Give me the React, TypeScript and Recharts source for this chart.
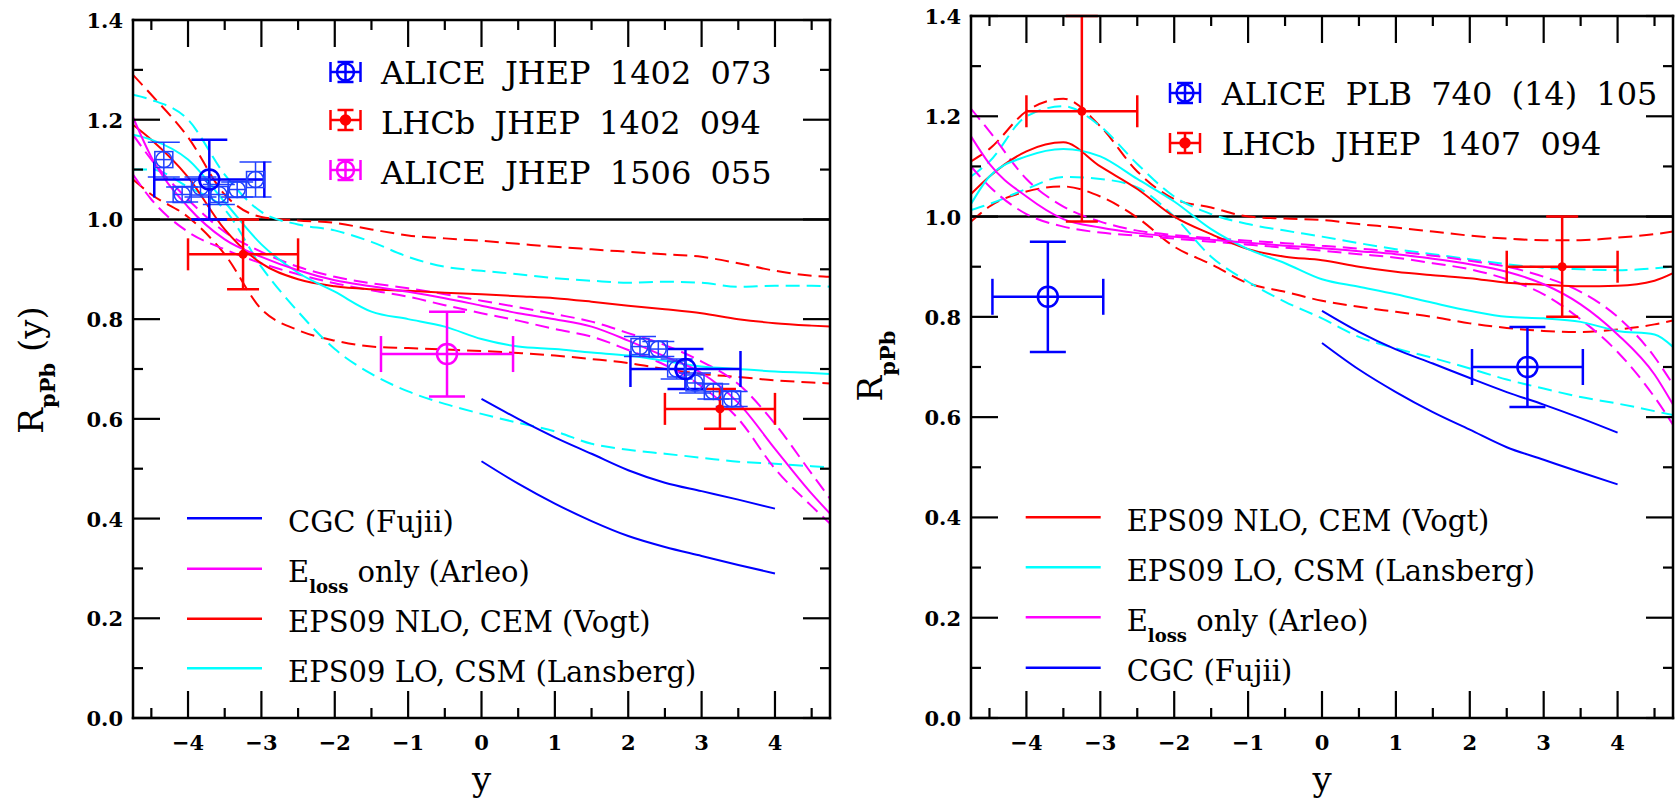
import React from "react";
import {
  ComposedChart,
  Line,
  Scatter,
  XAxis,
  YAxis,
  ErrorBar,
  ReferenceLine,
} from "recharts";

const RED = "#ff0000";
const BLUE = "#0000ff";
const MAGENTA = "#ff00ff";
const CYAN = "#00ffff";
const FONT = "'DejaVu Serif', serif";

// rapidity grid shared by the model bands
const yGrid = [-4.75, -4.5, -4, -3.5, -3, -2.5, -2, -1.5, -1, -0.5, 0, 0.5, 1, 1.5, 2, 2.5, 3, 3.5, 4, 4.5, 4.75];
const cgcGrid = [0, 0.5, 1, 1.5, 2, 2.5, 3, 3.5, 4];

const xTickValues = [-4.5, -4, -3.5, -3, -2.5, -2, -1.5, -1, -0.5, 0, 0.5, 1, 1.5, 2, 2.5, 3, 3.5, 4, 4.5];
const yTickValues = [0, 0.1, 0.2, 0.3, 0.4, 0.5, 0.6, 0.7, 0.8, 0.9, 1.0, 1.1, 1.2, 1.3, 1.4];

// ---- left panel models
const vogtL = [1.19, 1.16, 1.085, 0.98, 0.912, 0.88, 0.866, 0.86, 0.857, 0.853, 0.85, 0.846, 0.842, 0.835, 0.827, 0.82, 0.812, 0.8, 0.792, 0.787, 0.785];
const vogtLHi = [1.29, 1.25, 1.165, 1.05, 1.005, 0.998, 0.993, 0.98, 0.968, 0.962, 0.957, 0.951, 0.945, 0.94, 0.935, 0.93, 0.925, 0.912, 0.897, 0.887, 0.885];
const vogtLLo = [1.08, 1.05, 1.005, 0.93, 0.82, 0.778, 0.757, 0.745, 0.742, 0.739, 0.736, 0.732, 0.727, 0.72, 0.712, 0.7, 0.69, 0.684, 0.677, 0.673, 0.671];
const lansL = [1.17, 1.16, 1.12, 1.035, 0.95, 0.893, 0.855, 0.815, 0.8, 0.785, 0.76, 0.745, 0.74, 0.733, 0.727, 0.716, 0.705, 0.7, 0.695, 0.692, 0.69];
const lansLHi = [1.25, 1.24, 1.2, 1.09, 1.015, 0.99, 0.978, 0.955, 0.925, 0.905, 0.897, 0.89, 0.882, 0.877, 0.873, 0.875, 0.873, 0.865, 0.867, 0.867, 0.865];
const lansLLo = [1.1, 1.1, 1.065, 1.02, 0.905, 0.815, 0.74, 0.69, 0.655, 0.63, 0.61, 0.592, 0.575, 0.55, 0.538, 0.53, 0.522, 0.514, 0.51, 0.505, 0.503];
const arleoL = [1.205, 1.125, 1.025, 0.96, 0.925, 0.898, 0.878, 0.866, 0.855, 0.842, 0.827, 0.812, 0.8, 0.785, 0.757, 0.725, 0.692, 0.632, 0.54, 0.45, 0.41];
const arleoLHi = [1.17, 1.12, 1.04, 0.975, 0.935, 0.905, 0.885, 0.872, 0.862, 0.85, 0.837, 0.824, 0.81, 0.795, 0.772, 0.748, 0.715, 0.67, 0.59, 0.49, 0.44];
const arleoLLo = [1.09, 1.04, 0.975, 0.94, 0.912, 0.89, 0.872, 0.858, 0.845, 0.828, 0.812, 0.797, 0.78, 0.765, 0.738, 0.708, 0.665, 0.6, 0.5, 0.425, 0.39];
const fujiiLHi = [0.64, 0.6, 0.563, 0.53, 0.497, 0.472, 0.455, 0.438, 0.42];
const fujiiLLo = [0.515, 0.47, 0.43, 0.395, 0.365, 0.343, 0.325, 0.307, 0.29];

// ---- right panel models
const vogtR = [1.045, 1.08, 1.13, 1.148, 1.1, 1.055, 1.0, 0.965, 0.935, 0.92, 0.913, 0.9, 0.89, 0.883, 0.877, 0.868, 0.864, 0.861, 0.862, 0.872, 0.887];
const vogtRHi = [1.11, 1.135, 1.21, 1.235, 1.18, 1.09, 1.035, 1.018, 1.0, 0.996, 0.993, 0.985, 0.978, 0.97, 0.962, 0.956, 0.953, 0.953, 0.958, 0.965, 0.97];
const vogtRLo = [0.99, 1.02, 1.05, 1.06, 1.04, 0.998, 0.94, 0.905, 0.867, 0.85, 0.832, 0.82, 0.81, 0.8, 0.787, 0.778, 0.772, 0.77, 0.775, 0.785, 0.793];
const lansR = [1.025, 1.08, 1.12, 1.135, 1.12, 1.075, 1.03, 0.975, 0.935, 0.907, 0.875, 0.86, 0.845, 0.828, 0.812, 0.8, 0.797, 0.79, 0.772, 0.765, 0.74];
const lansRHi = [1.08, 1.11, 1.2, 1.22, 1.18, 1.105, 1.04, 1.005, 0.985, 0.972, 0.96, 0.947, 0.935, 0.925, 0.915, 0.905, 0.898, 0.895, 0.893, 0.897, 0.9];
const lansRLo = [1.013, 1.025, 1.055, 1.079, 1.075, 1.058, 1.0, 0.92, 0.87, 0.83, 0.797, 0.76, 0.737, 0.718, 0.697, 0.675, 0.657, 0.64, 0.627, 0.612, 0.604];
const arleoR = [1.16, 1.105, 1.04, 0.995, 0.978, 0.967, 0.96, 0.954, 0.948, 0.942, 0.937, 0.931, 0.925, 0.916, 0.905, 0.89, 0.865, 0.825, 0.765, 0.685, 0.625];
const arleoRHi = [1.215, 1.17, 1.075, 1.02, 0.99, 0.972, 0.963, 0.957, 0.952, 0.947, 0.942, 0.936, 0.93, 0.922, 0.912, 0.9, 0.88, 0.85, 0.8, 0.72, 0.665];
const arleoRLo = [1.1, 1.06, 1.005, 0.98, 0.968, 0.962, 0.956, 0.95, 0.944, 0.938, 0.932, 0.925, 0.918, 0.907, 0.895, 0.875, 0.845, 0.795, 0.73, 0.64, 0.585];
const fujiiRHi = [0.812, 0.77, 0.735, 0.707, 0.678, 0.65, 0.625, 0.598, 0.569];
const fujiiRLo = [0.748, 0.695, 0.65, 0.61, 0.575, 0.54, 0.515, 0.49, 0.466];

// ---- measurements
const aliceBinX = [-4.33, -4.08, -3.83, -3.58, -3.33, -3.08, 2.16, 2.41, 2.66, 2.91, 3.16, 3.41];
const aliceBinY = [1.12, 1.05, 1.065, 1.05, 1.06, 1.08, 0.745, 0.74, 0.7, 0.672, 0.655, 0.64];
const aliceBinErr = [0.035, 0.015, 0.02, 0.02, 0.015, 0.035, 0.02, 0.015, 0.02, 0.02, 0.015, 0.015];
const aliceBinHalf = [0.125, 0.125, 0.125, 0.125, 0.125, 0.125, 0.125, 0.125, 0.125, 0.125, 0.125, 0.125];

const alice14X = [-3.71, 2.78];
const alice14Y = [1.08, 0.7];
const alice14Err = [0.08, 0.04];
const alice14Half = [0.75, 0.75];

const lhcb14X = [-3.25, 3.25];
const lhcb14Y = [0.93, 0.62];
const lhcb14Err = [0.07, 0.04];
const lhcb14Half = [0.75, 0.75];

const alice15X = [-0.47];
const alice15Y = [0.73];
const alice15Err = [0.085];
const alice15Half = [0.9];

const alicePlbX = [-3.71, 2.78];
const alicePlbY = [0.84, 0.7];
const alicePlbErr = [0.11, 0.08];
const alicePlbHalf = [0.75, 0.75];

const lhcbPsiX = [-3.25, 3.25];
const lhcbPsiY = [1.21, 0.9];
const lhcbPsiErr: [number, number][] = [[0.22, 0.19], [0.1, 0.1]];
const lhcbPsiHalf = [0.75, 0.75];

const pts = (xs: number[], ys: number[]) => xs.map((x, i) => ({ x, y: ys[i] }));
const meas = (xs: number[], ys: number[], ex: number[], ey: any[]) =>
  xs.map((x, i) => ({ x, y: ys[i], ex: ex[i], ey: ey[i] }));

const fmtX = (v: number) => (v < 0 ? "\u2212" + Math.abs(v) : String(v));
const isMajorX = (v: number) => Number.isInteger(v);
const isMajorY = (v: number) => Math.round(v * 10) % 2 === 0;

function BottomTick(props: any) {
  const { x, y, payload } = props;
  const v = payload.value;
  const major = isMajorX(v);
  return (
    <g>
      <line x1={x} x2={x} y1={y} y2={y - (major ? 27 : 10)} stroke="#000" strokeWidth={2.2} />
      {major && (
        <text x={x} y={y + 32} textAnchor="middle" fontFamily={FONT} fontWeight="bold" fontSize={21} fill="#000">
          {fmtX(v)}
        </text>
      )}
    </g>
  );
}

function TopTick(props: any) {
  const { x, y, payload } = props;
  const major = isMajorX(payload.value);
  return <line x1={x} x2={x} y1={y} y2={y + (major ? 27 : 10)} stroke="#000" strokeWidth={2.2} />;
}

function LeftTick(props: any) {
  const { x, y, payload } = props;
  const v = payload.value;
  const major = isMajorY(v);
  return (
    <g>
      <line x1={x} x2={x + (major ? 27 : 10)} y1={y} y2={y} stroke="#000" strokeWidth={2.2} />
      {major && (
        <text x={x - 10} y={y + 8} textAnchor="end" fontFamily={FONT} fontWeight="bold" fontSize={21} fill="#000">
          {v.toFixed(1)}
        </text>
      )}
    </g>
  );
}

function RightTick(props: any) {
  const { x, y, payload } = props;
  const major = isMajorY(payload.value);
  return <line x1={x} x2={x - (major ? 27 : 10)} y1={y} y2={y} stroke="#000" strokeWidth={2.2} />;
}

interface Curve {
  data: { x: number; y: number }[];
  color: string;
  dashed?: boolean;
}

interface PointSet {
  data: any[];
  color: string;
  kind: "open" | "filled" | "binned";
  cap: number;
}

function markerShape(set: PointSet) {
  return (p: any) => {
    const { cx, cy } = p;
    if (set.kind === "filled") return <circle cx={cx} cy={cy} r={4.5} fill={set.color} />;
    if (set.kind === "binned")
      return (
        <g stroke={set.color} strokeWidth={1.5} fill="none">
          <rect x={cx - 9} y={cy - 8} width={18} height={16} />
          <circle cx={cx} cy={cy} r={8} />
        </g>
      );
    return <circle cx={cx} cy={cy} r={10} fill="none" stroke={set.color} strokeWidth={2.5} />;
  };
}

function DataSymbol({ x, y, color, filled }: { x: number; y: number; color: string; filled?: boolean }) {
  return (
    <g stroke={color} strokeWidth={2.5} fill="none">
      <line x1={x - 15} x2={x + 15} y1={y} y2={y} />
      <line x1={x - 15} x2={x - 15} y1={y - 10} y2={y + 10} />
      <line x1={x + 15} x2={x + 15} y1={y - 10} y2={y + 10} />
      <line x1={x} x2={x} y1={y - 10} y2={y + 10} />
      <line x1={x - 8} x2={x + 8} y1={y - 10} y2={y - 10} />
      <line x1={x - 8} x2={x + 8} y1={y + 10} y2={y + 10} />
      {filled ? <circle cx={x} cy={y} r={4.5} fill={color} /> : <circle cx={x} cy={y} r={8.5} />}
    </g>
  );
}

function ModelKey({ x, y, color, children }: { x: number; y: number; color: string; children: React.ReactNode }) {
  return (
    <g>
      <line x1={x} x2={x + 75} y1={y} y2={y} stroke={color} strokeWidth={2.5} />
      <text x={x + 101} y={y + 13.5} fontFamily={FONT} fontSize={29} fill="#000" style={{ whiteSpace: "pre" }}>
        {children}
      </text>
    </g>
  );
}

const Eloss = () => (
  <>
    E
    <tspan fontSize={18} fontWeight="bold" dy={11}>
      loss
    </tspan>
    <tspan dy={-11}>{" only (Arleo)"}</tspan>
  </>
);

function Panel({
  left,
  width,
  margin,
  curves,
  points,
  children,
}: {
  left: number;
  width: number;
  margin: { top: number; right: number; bottom: number; left: number };
  curves: Curve[];
  points: PointSet[];
  children: React.ReactNode;
}) {
  const frame = { stroke: "#000", strokeWidth: 2.5, strokeLinecap: "square" as const };
  return (
    <div style={{ position: "absolute", left, top: 0, width, height: 800 }}>
      <ComposedChart width={width} height={800} margin={margin}>
        <XAxis
          dataKey="x"
          type="number"
          domain={[-4.75, 4.75]}
          allowDataOverflow
          ticks={xTickValues}
          interval={0}
          height={1}
          tickSize={0}
          tickMargin={0}
          tickLine={false}
          axisLine={frame}
          tick={(p: any) => <BottomTick {...p} />}
        />
        <XAxis
          xAxisId="top"
          orientation="top"
          dataKey="x"
          type="number"
          domain={[-4.75, 4.75]}
          allowDataOverflow
          ticks={xTickValues}
          interval={0}
          height={1}
          tickSize={0}
          tickMargin={0}
          tickLine={false}
          axisLine={frame}
          tick={(p: any) => <TopTick {...p} />}
        />
        <YAxis
          type="number"
          domain={[0, 1.4]}
          allowDataOverflow
          ticks={yTickValues}
          interval={0}
          width={1}
          tickSize={0}
          tickMargin={0}
          tickLine={false}
          axisLine={frame}
          tick={(p: any) => <LeftTick {...p} />}
        />
        <YAxis
          yAxisId="right"
          orientation="right"
          type="number"
          domain={[0, 1.4]}
          allowDataOverflow
          ticks={yTickValues}
          interval={0}
          width={1}
          tickSize={0}
          tickMargin={0}
          tickLine={false}
          axisLine={frame}
          tick={(p: any) => <RightTick {...p} />}
        />
        <ReferenceLine y={1} stroke="#000" strokeWidth={2.5} />
        {curves.map((c, i) => (
          <Line
            key={"c" + i}
            data={c.data}
            dataKey="y"
            type="monotone"
            stroke={c.color}
            strokeWidth={2}
            strokeDasharray={c.dashed ? "14 7" : undefined}
            dot={false}
            activeDot={false}
            isAnimationActive={false}
          />
        ))}
        {points.map((s, i) => (
          <Scatter key={"p" + i} data={s.data} dataKey="y" shape={markerShape(s)} isAnimationActive={false}>
            <ErrorBar
              dataKey="ex"
              direction="x"
              width={s.kind === "binned" ? 0 : s.cap}
              stroke={s.color}
              strokeWidth={s.kind === "binned" ? 1.5 : 2.5}
            />
            <ErrorBar
              dataKey="ey"
              direction="y"
              width={s.cap}
              stroke={s.color}
              strokeWidth={s.kind === "binned" ? 1.5 : 2.5}
            />
          </Scatter>
        ))}
      </ComposedChart>
      <svg
        width={width}
        height={800}
        style={{ position: "absolute", left: 0, top: 0, pointerEvents: "none", overflow: "visible" }}
      >
        {children}
      </svg>
    </div>
  );
}

export default function App() {
  const leftCurves: Curve[] = [
    { data: pts(yGrid, vogtLHi), color: RED, dashed: true },
    { data: pts(yGrid, vogtLLo), color: RED, dashed: true },
    { data: pts(yGrid, lansLHi), color: CYAN, dashed: true },
    { data: pts(yGrid, lansLLo), color: CYAN, dashed: true },
    { data: pts(yGrid, arleoLHi), color: MAGENTA, dashed: true },
    { data: pts(yGrid, arleoLLo), color: MAGENTA, dashed: true },
    { data: pts(yGrid, vogtL), color: RED },
    { data: pts(yGrid, lansL), color: CYAN },
    { data: pts(yGrid, arleoL), color: MAGENTA },
    { data: pts(cgcGrid, fujiiLHi), color: BLUE },
    { data: pts(cgcGrid, fujiiLLo), color: BLUE },
  ];
  const rightCurves: Curve[] = [
    { data: pts(yGrid, vogtRHi), color: RED, dashed: true },
    { data: pts(yGrid, vogtRLo), color: RED, dashed: true },
    { data: pts(yGrid, lansRHi), color: CYAN, dashed: true },
    { data: pts(yGrid, lansRLo), color: CYAN, dashed: true },
    { data: pts(yGrid, arleoRHi), color: MAGENTA, dashed: true },
    { data: pts(yGrid, arleoRLo), color: MAGENTA, dashed: true },
    { data: pts(yGrid, vogtR), color: RED },
    { data: pts(yGrid, lansR), color: CYAN },
    { data: pts(yGrid, arleoR), color: MAGENTA },
    { data: pts(cgcGrid, fujiiRHi), color: BLUE },
    { data: pts(cgcGrid, fujiiRLo), color: BLUE },
  ];
  const leftPoints: PointSet[] = [
    { data: meas(aliceBinX, aliceBinY, aliceBinHalf, aliceBinErr), color: "#2040ff", kind: "binned", cap: 16 },
    { data: meas(alice14X, alice14Y, alice14Half, alice14Err), color: BLUE, kind: "open", cap: 18 },
    { data: meas(lhcb14X, lhcb14Y, lhcb14Half, lhcb14Err), color: RED, kind: "filled", cap: 16 },
    { data: meas(alice15X, alice15Y, alice15Half, alice15Err), color: MAGENTA, kind: "open", cap: 18 },
  ];
  const rightPoints: PointSet[] = [
    { data: meas(alicePlbX, alicePlbY, alicePlbHalf, alicePlbErr), color: BLUE, kind: "open", cap: 18 },
    { data: meas(lhcbPsiX, lhcbPsiY, lhcbPsiHalf, lhcbPsiErr), color: RED, kind: "filled", cap: 16 },
  ];

  const big = { fontFamily: FONT, fontSize: 32, fill: "#000", wordSpacing: 9 } as const;

  return (
    <div style={{ position: "absolute", left: 0, top: 0, width: 1677, height: 800, background: "#fff" }}>
      <Panel
        left={0}
        width={840}
        margin={{ top: 19, right: 9, bottom: 81, left: 132 }}
        curves={leftCurves}
        points={leftPoints}
      >
        <text transform="translate(43,370) rotate(-90)" textAnchor="middle" fontFamily={FONT} fontSize={34} style={{ whiteSpace: "pre" }}>
          R
          <tspan fontSize={21} fontWeight="bold" dy={12}>
            pPb
          </tspan>
          <tspan dy={-12}>{" (y)"}</tspan>
        </text>
        <text x={481.7} y={791} textAnchor="middle" fontFamily={FONT} fontSize={34}>
          y
        </text>
        <DataSymbol x={345.5} y={72} color={BLUE} />
        <DataSymbol x={345.5} y={120} color={RED} filled />
        <DataSymbol x={345.5} y={170} color={MAGENTA} />
        <text x={381} y={83.5} {...big}>ALICE JHEP 1402 073</text>
        <text x={381} y={133.5} {...big}>LHCb JHEP 1402 094</text>
        <text x={381} y={183.5} {...big}>ALICE JHEP 1506 055</text>
        <ModelKey x={187} y={518.3} color={BLUE}>CGC (Fujii)</ModelKey>
        <ModelKey x={187} y={568.7} color={MAGENTA}>
          <Eloss />
        </ModelKey>
        <ModelKey x={187} y={618.7} color={RED}>EPS09 NLO, CEM (Vogt)</ModelKey>
        <ModelKey x={187} y={668.3} color={CYAN}>EPS09 LO, CSM (Lansberg)</ModelKey>
      </Panel>
      <Panel
        left={840}
        width={837}
        margin={{ top: 15, right: 3, bottom: 81, left: 130 }}
        curves={rightCurves}
        points={rightPoints}
      >
        <text transform="translate(42,366) rotate(-90)" textAnchor="middle" fontFamily={FONT} fontSize={34}>
          R
          <tspan fontSize={21} fontWeight="bold" dy={13}>
            pPb
          </tspan>
        </text>
        <text x={482} y={791} textAnchor="middle" fontFamily={FONT} fontSize={34}>
          y
        </text>
        <DataSymbol x={345} y={93} color={BLUE} />
        <DataSymbol x={345} y={143} color={RED} filled />
        <text x={381.7} y={105} {...big}>ALICE PLB 740 (14) 105</text>
        <text x={381.7} y={155} {...big}>LHCb JHEP 1407 094</text>
        <ModelKey x={185.7} y={517.3} color={RED}>EPS09 NLO, CEM (Vogt)</ModelKey>
        <ModelKey x={185.7} y={567.3} color={CYAN}>EPS09 LO, CSM (Lansberg)</ModelKey>
        <ModelKey x={185.7} y={617.3} color={MAGENTA}>
          <Eloss />
        </ModelKey>
        <ModelKey x={185.7} y={667.7} color={BLUE}>CGC (Fujii)</ModelKey>
      </Panel>
    </div>
  );
}
